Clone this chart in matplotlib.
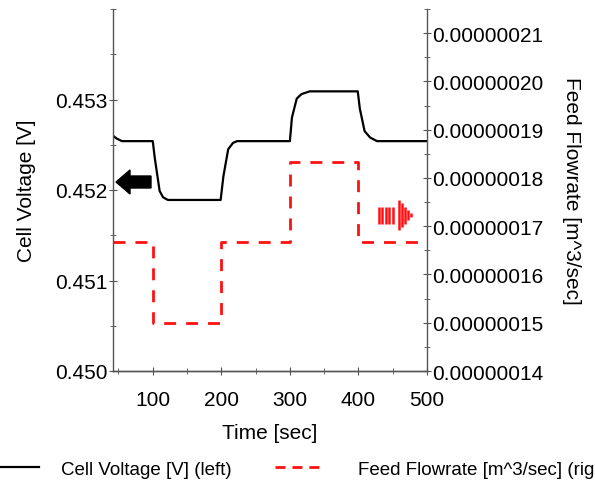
import matplotlib
matplotlib.use("Agg")
import matplotlib.pyplot as plt
from matplotlib.lines import Line2D
from matplotlib.patches import Polygon

plt.rcParams['font.family'] = ['Liberation Sans', 'DejaVu Sans']

# Cell voltage [V] (left axis)
volt_time = [42, 47, 55, 100, 103, 110, 115, 122, 199, 203, 210, 217, 223,
             300, 303, 310, 317, 329, 399, 402, 409, 417, 427, 500]
volt_vals = [0.45260, 0.45257, 0.45254, 0.45254, 0.45235, 0.45199, 0.45192, 0.45189,
             0.45189, 0.45215, 0.45245, 0.45252, 0.45254,
             0.45254, 0.45280, 0.45301, 0.45306, 0.45309, 0.45309, 0.45290,
             0.45265, 0.45258, 0.45254, 0.45254]

# Feed flowrate [m^3/sec] (right axis), step changes
flow_time = [42, 100, 100, 200, 200, 300, 300, 400, 400, 500]
flow_vals = [1.6667e-7, 1.6667e-7, 1.5e-7, 1.5e-7, 1.6667e-7, 1.6667e-7,
             1.8333e-7, 1.8333e-7, 1.6667e-7, 1.6667e-7]

x_ticks = [100, 200, 300, 400, 500]
left_ticks = [0.450, 0.451, 0.452, 0.453]
left_labels = ["0.450", "0.451", "0.452", "0.453"]
right_ticks = [1.4e-7, 1.5e-7, 1.6e-7, 1.7e-7, 1.8e-7, 1.9e-7, 2.0e-7, 2.1e-7]
right_labels = ["0.00000014", "0.00000015", "0.00000016", "0.00000017",
                "0.00000018", "0.00000019", "0.00000020", "0.00000021"]

FS = 15
LFS = 13.5
axcol = "#555555"
red = "#ff1010"

fig = plt.figure(figsize=(5.95, 4.85), dpi=100)
ax = fig.add_axes([113/595, 1-372/485, 314/595, 362/485])
ax2 = ax.twinx()

ax.plot(volt_time, volt_vals, color="black", lw=1.6)
ax2.plot(flow_time, flow_vals, color=red, lw=2.0, dashes=(4.3, 3.6))

ax.set_xlim(42, 500)
ax.set_ylim(0.450, 0.454)
ax2.set_ylim(1.4e-7, 2.15e-7)

ax.set_xticks(x_ticks)
ax.set_xticks([50, 150, 250, 350, 450], minor=True)
ax.set_yticks(left_ticks)
ax.set_yticklabels(left_labels)
ax.set_yticks([0.4505, 0.4515, 0.4525, 0.4535, 0.454], minor=True)
ax2.set_yticks(right_ticks)
ax2.set_yticklabels(right_labels)
ax2.set_yticks([1.45e-7, 1.55e-7, 1.65e-7, 1.75e-7, 1.85e-7, 1.95e-7, 2.05e-7, 2.15e-7], minor=True)

for a in (ax, ax2):
    a.spines['top'].set_visible(False)
    for s in a.spines.values():
        s.set_color(axcol)
        s.set_linewidth(1.0)
    a.tick_params(which='both', direction='inout', color=axcol, labelsize=FS, pad=1)
    a.tick_params(which='major', length=6)
    a.tick_params(which='minor', length=5)
ax.spines['right'].set_visible(False)
ax2.spines['left'].set_visible(False)
ax.tick_params(axis='x', pad=11)

ax.set_xlabel("Time [sec]", fontsize=FS, labelpad=10)
ax.set_ylabel("Cell Voltage [V]", fontsize=FS, labelpad=14)
ax2.set_ylabel("Feed Flowrate [m^3/sec]", fontsize=FS, rotation=270, labelpad=27)

def px(x, y):
    return ((x - 113) / 314, (372 - y) / 362)

# black arrow pointing left (towards left axis)
black_arrow = [px(116, 183), px(130, 171), px(130, 177), px(151, 177),
               px(151, 189), px(130, 189), px(130, 195)]
ax.add_patch(Polygon(black_arrow, closed=True, transform=ax.transAxes,
                     facecolor="black", edgecolor="black", clip_on=False))

# red hatched arrow pointing right (towards right axis)
bar_x = [379, 382.4, 385.8, 389.2, 392.6, 398.5, 401.5, 404.5, 407.5, 410.5]
bar_h = [17, 17, 17, 17, 17, 30, 24, 17, 10, 4]
cy = 216
for bx, bh in zip(bar_x, bar_h):
    x0, y0 = px(bx, cy - bh / 2)
    _, y1 = px(bx, cy + bh / 2)
    ax.plot([x0, x0], [y0, y1], transform=ax.transAxes, color=red, lw=1.8,
            solid_capstyle='butt', clip_on=False)

h1 = Line2D([], [], color="black", lw=1.6)
h2 = Line2D([], [], color=red, lw=2.0, dashes=(3.6, 2.5))
fig.legend([h1], ["Cell Voltage [V] (left)"], loc='center left',
           bbox_to_anchor=(0.0, 1 - 470/485), frameon=False, fontsize=LFS,
           handlelength=2.1, handletextpad=1.15, borderpad=0, borderaxespad=0)
fig.legend([h2], ["Feed Flowrate [m^3/sec] (right)"], loc='center left',
           bbox_to_anchor=(275/595, 1 - 470/485), frameon=False, fontsize=LFS,
           handlelength=2.35, handletextpad=2.05, borderpad=0, borderaxespad=0)

fig.savefig("out.png", dpi=100)
